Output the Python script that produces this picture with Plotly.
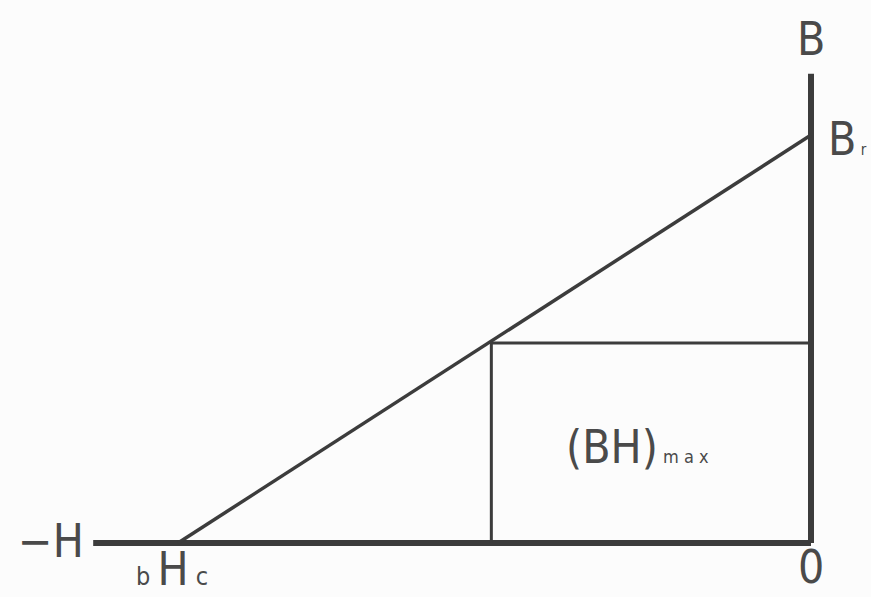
import plotly.graph_objects as go

# Data (normalized units: Br = 1, |bHc| = 1)
H_c = -1.0          # coercive force bHc on -H axis
B_r = 1.0           # residual flux density Br on B axis
H_axis_end = -1.134 # left end of the -H axis
B_axis_end = 1.15   # top end of the B axis
BH_point_H = -0.505 # operating point giving (BH)max
BH_point_B = 0.49

line_col = "#3c3c3c"
text_col = "#4a4a4a"
FONT = "DejaVu Sans Condensed, Liberation Sans Narrow, sans-serif"

fig = go.Figure()

# Axes
fig.add_trace(go.Scatter(x=[H_axis_end, 0], y=[0, 0], mode="lines",
                         line=dict(color=line_col, width=6), hoverinfo="skip"))
fig.add_trace(go.Scatter(x=[0, 0], y=[0, B_axis_end], mode="lines",
                         line=dict(color=line_col, width=6), hoverinfo="skip"))
# Demagnetization line
fig.add_trace(go.Scatter(x=[H_c, 0], y=[0, B_r], mode="lines",
                         line=dict(color=line_col, width=3.5), hoverinfo="skip"))
# (BH)max rectangle
fig.add_trace(go.Scatter(x=[BH_point_H, BH_point_H, 0], y=[0, BH_point_B, BH_point_B],
                         mode="lines", line=dict(color=line_col, width=3), hoverinfo="skip"))

def ann(text, x, y, size=46, xanchor="center"):
    fig.add_annotation(x=x, y=y, xref="x", yref="y", text=text, showarrow=False,
                       xanchor=xanchor, yanchor="middle",
                       font=dict(family=FONT, size=size, color=text_col))

ann("B", 0.0, 1.235)
ann("B<span style='font-size:15px'> r</span>", 0.024, 0.99, xanchor="left")
ann("\u2212H", -1.2, 0.005)
ann("<span style='font-size:25px'>b </span>H<span style='font-size:25px'> c</span>",
    -1.01, -0.064)
ann("0", 0.0, -0.058)
ann("(BH)<span style='font-size:18px'> m a x</span>", -0.39, 0.235, xanchor="left")

fig.update_xaxes(range=[-811/633, 60/633], visible=False, fixedrange=True)
fig.update_yaxes(range=[-54/408, 543/408], visible=False, fixedrange=True)
fig.update_layout(width=871, height=597, margin=dict(l=0, r=0, t=0, b=0),
                  showlegend=False, plot_bgcolor="#fcfcfc", paper_bgcolor="#fcfcfc")

fig.write_html("out.html", config={"displayModeBar": False},
               post_script="document.body.style.margin='0px';")
